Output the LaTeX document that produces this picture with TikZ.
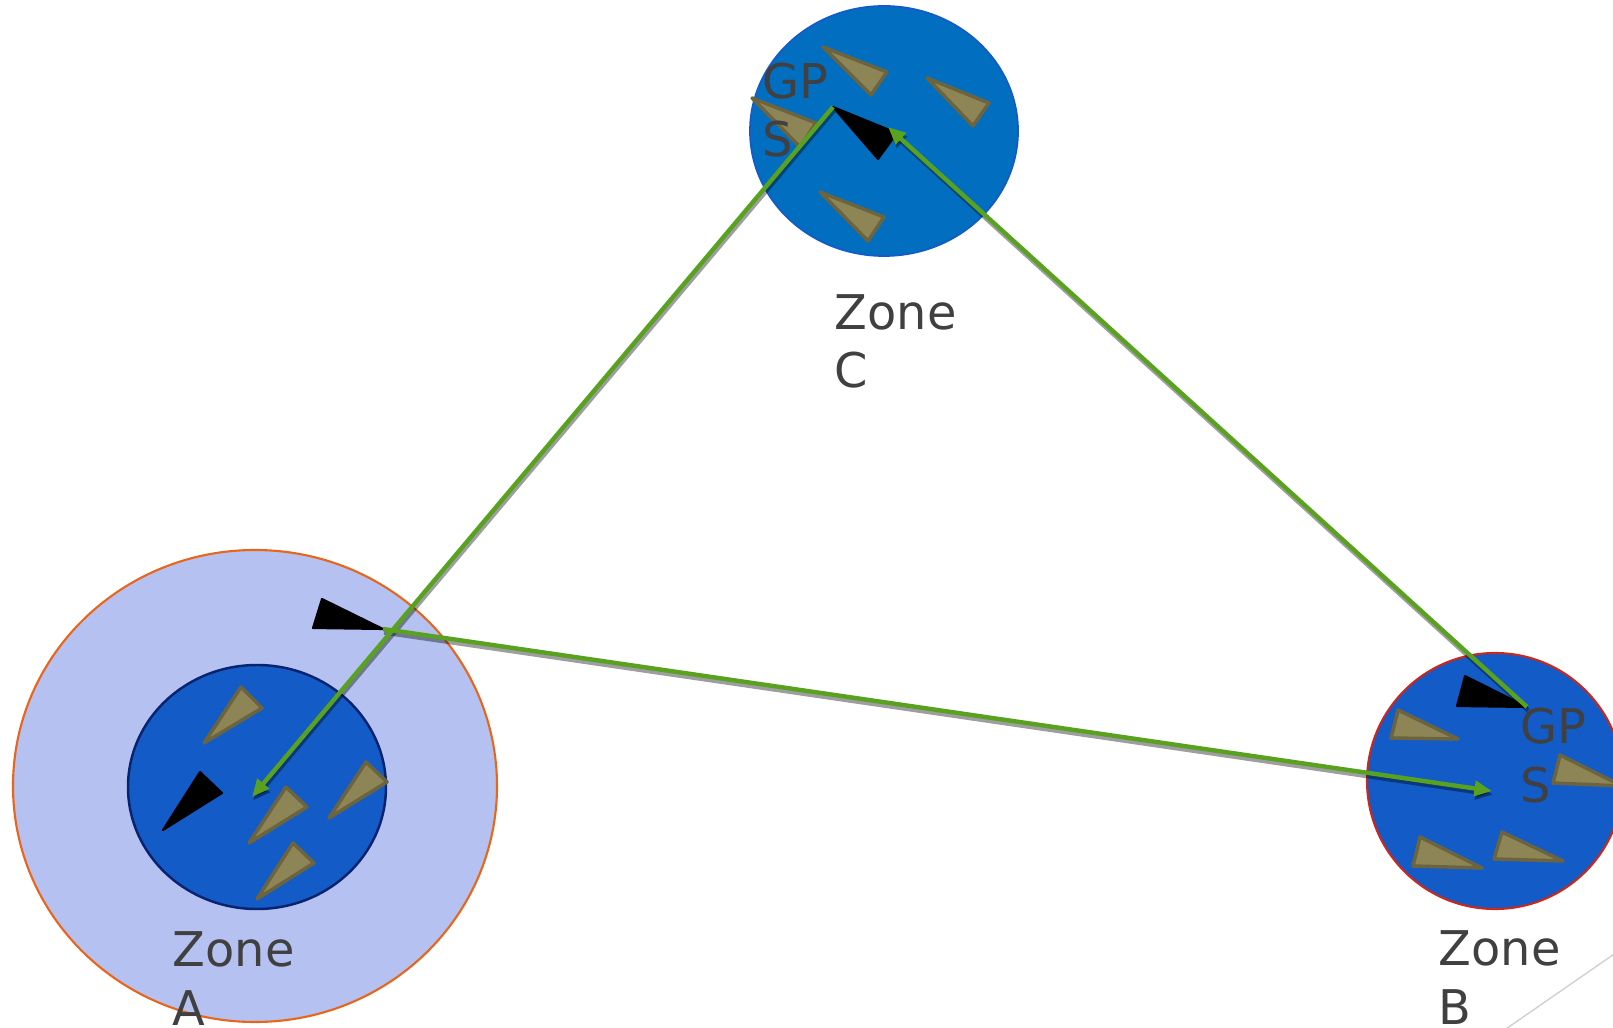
\documentclass[tikz,border=0pt]{standalone}
\usepackage{fontspec}
\setmainfont{DejaVu Sans}
\usetikzlibrary{arrows.meta}

\definecolor{outerfill}{RGB}{181,193,240}
\definecolor{outeredge}{RGB}{232,101,26}
\definecolor{zoneblue}{RGB}{19,91,199}
\definecolor{zonecblue}{RGB}{2,110,192}
\definecolor{navyedge}{RGB}{10,35,110}
\definecolor{rededge}{RGB}{200,40,30}
\definecolor{linkgreen}{RGB}{88,162,32}
\definecolor{labelgrey}{RGB}{64,64,64}
\definecolor{olivefill}{RGB}{141,133,85}
\definecolor{oliveedge}{RGB}{108,100,62}

\begin{document}
\begin{tikzpicture}[x=0.01cm,y=-0.01cm,
  sensor/.style={fill=olivefill,draw=oliveedge,line width=1pt,line join=round},
  gpsmark/.style={fill=black,draw=black,line width=0.6pt,line join=round},
  zonelabel/.style={anchor=base west,align=left,inner sep=0pt,text=labelgrey,
    font=\fontsize{13.6}{16.5}\selectfont},
  link/.style={draw=linkgreen,line width=1.25pt,-{Triangle[length=5pt,width=4.2pt]}},
  linkshadow/.style={draw=black,opacity=0.38,line width=1.25pt,-{Triangle[length=5pt,width=4.2pt]}}]

% page frame
\clip (0,0) rectangle (1613,1028);

% Zone A: coverage area and zone
\draw[fill=outerfill,draw=outeredge,line width=0.6pt] (255,786) ellipse (242 and 236);
\draw[fill=zoneblue,draw=navyedge,line width=0.7pt] (257,787) ellipse (129 and 122);

% Zone C and Zone B
\draw[fill=zonecblue,draw=zoneblue,line width=0.5pt] (884,131) ellipse (134 and 125);
\draw[fill=zoneblue,draw=rededge,line width=0.6pt] (1495,781) ellipse (128 and 128);

% faint line in the corner
\draw[color=black!18,line width=0.4pt] (1500,1033) -- (1620,950);

% sensors in Zone A
\draw[sensor] (204,743) -- (241,687) -- (262,708) -- cycle;
\draw[sensor] (249,843) -- (286,787) -- (307,807) -- cycle;
\draw[sensor] (257,899) -- (293,843) -- (314,863) -- cycle;
\draw[sensor] (329,818) -- (366,762) -- (387,782) -- cycle;

% sensors in Zone C
\draw[sensor] (823,47) -- (887,72) -- (871,95) -- cycle;
\draw[sensor] (927,78) -- (989,103) -- (973,126) -- cycle;
\draw[sensor] (752,98) -- (816,123) -- (800,147) -- cycle;
\draw[sensor] (820,192) -- (884,217) -- (868,241) -- cycle;

% sensors in Zone B
\draw[sensor] (1391,738) -- (1398,710) -- (1458,739) -- cycle;
\draw[sensor] (1553,783) -- (1560,755) -- (1622,786) -- cycle;
\draw[sensor] (1413,866) -- (1420,837) -- (1482,868) -- cycle;
\draw[sensor] (1494,859) -- (1502,832) -- (1563,861) -- cycle;

% gateways (black marks)
\draw[gpsmark] (163,830) -- (200,772) -- (222,793) -- cycle;
\draw[gpsmark] (313,628) -- (322,599) -- (383,629) -- cycle;
\draw[gpsmark] (833,107) -- (897,133) -- (878,159) -- cycle;
\draw[gpsmark] (1457,706) -- (1465,676) -- (1527,707) -- cycle;

% Add labels (anchored at the baseline of the second line)
\node[zonelabel] (labelA) at (172,1025) {Zone\\A};
\node[zonelabel] (labelB) at (1438,1024) {Zone\\B};
\node[zonelabel] (labelC) at (834,388) {Zone\\C};
\node[zonelabel] (gpsC) at (762,157) {GP\\S};
\node[zonelabel] (gpsB) at (1520,802) {GP\\S};

% link end points
\coordinate (fromC) at (833,107);
\coordinate (toA) at (252,797);
\coordinate (fromA) at (383,629);
\coordinate (toB) at (1492,791);
\coordinate (fromB) at (1527,707);
\coordinate (toC) at (888,127);

% Add links with their shadows
\draw[linkshadow] ([shift={(1,3.5)}]fromC) -- ([shift={(1,3.5)}]toA);
\draw[linkshadow] ([shift={(1,3.5)}]fromA) -- ([shift={(1,3.5)}]toB);
\draw[linkshadow] ([shift={(1,3.5)}]fromB) -- ([shift={(1,3.5)}]toC);
\draw[link] (fromC) -- (toA);
\draw[link] (fromA) -- (toB);
\draw[link] (fromB) -- (toC);

\end{tikzpicture}
\end{document}
